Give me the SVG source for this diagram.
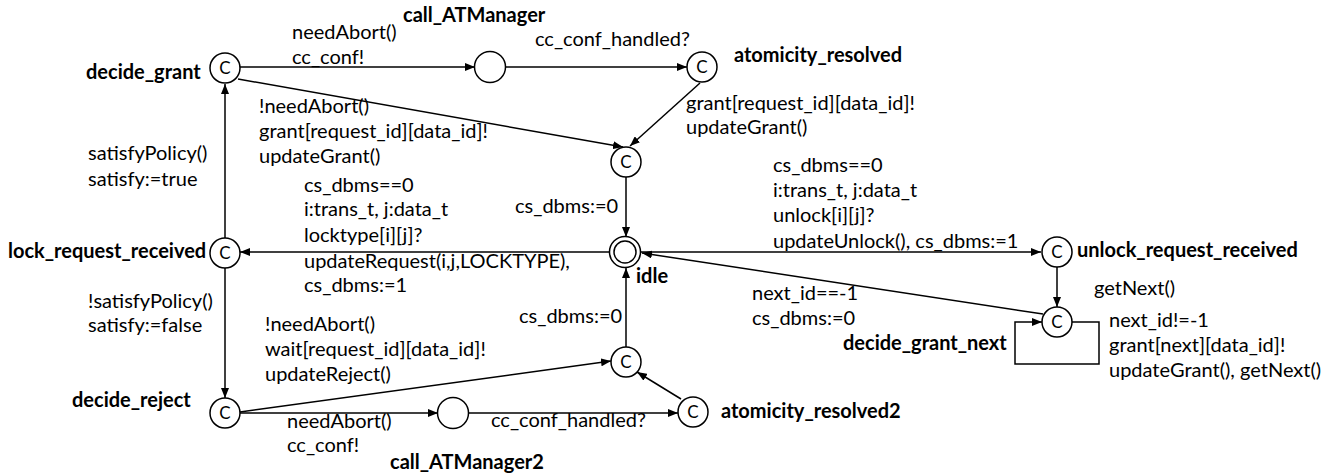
<svg xmlns="http://www.w3.org/2000/svg" width="1337" height="475" viewBox="0 0 1337 475">
<style>
text{font-family:Lato,"Open Sans","Liberation Sans",sans-serif;font-size:20px;fill:#000}
.b{font-weight:bold}
.n{fill:#fff;stroke:#000;stroke-width:1.5}
.c{font-size:17px;text-anchor:middle}
.e{fill:none;stroke:#000;stroke-width:1.5}
</style>
<defs>
<marker id="a" viewBox="0 0 10 8" refX="10" refY="4" markerWidth="10" markerHeight="8" markerUnits="userSpaceOnUse" orient="auto"><path d="M0,0L10,4L0,8z" fill="#000"/></marker>
</defs>
<g id="connectors">
<path class="e" d="M240,67H475" marker-end="url(#a)"/>
<path class="e" d="M506,67H687" marker-end="url(#a)"/>
<path class="e" d="M700,83L630,146" marker-end="url(#a)"/>
<path class="e" d="M238,79L623,147" marker-end="url(#a)"/>
<path class="e" d="M626,177V237" marker-end="url(#a)"/>
<path class="e" d="M610,252H240" marker-end="url(#a)"/>
<path class="e" d="M641,252H1041" marker-end="url(#a)"/>
<path class="e" d="M1043,314L642,253" marker-end="url(#a)"/>
<path class="e" d="M1057,267V307" marker-end="url(#a)"/>
<path class="e" d="M1072,322H1099V364H1015V322H1042" marker-end="url(#a)"/>
<path class="e" d="M225,238V84" marker-end="url(#a)"/>
<path class="e" d="M225,268V398" marker-end="url(#a)"/>
<path class="e" d="M240,413H438" marker-end="url(#a)"/>
<path class="e" d="M468,413H678" marker-end="url(#a)"/>
<path class="e" d="M240,412L611,361" marker-end="url(#a)"/>
<path class="e" d="M681,399L637,372" marker-end="url(#a)"/>
<path class="e" d="M626,347V268" marker-end="url(#a)"/>
</g>
<g id="decide_grant"><circle class="n" cx="225" cy="68" r="15"/><text class="c" x="225" y="74">C</text><text class="b" x="86" y="79">decide_grant</text></g>
<g id="call_ATManager"><circle class="n" cx="490" cy="67" r="15.5"/><text class="b" x="403" y="22">call_ATManager</text></g>
<g id="atomicity_resolved"><circle class="n" cx="702" cy="67" r="15"/><text class="c" x="702" y="73">C</text><text class="b" x="734" y="62">atomicity_resolved</text></g>
<g id="grant_join"><circle class="n" cx="626" cy="162" r="15"/><text class="c" x="626" y="168">C</text></g>
<g id="idle"><circle class="n" cx="625" cy="252" r="15.5"/><circle class="n" cx="625" cy="252" r="11"/><text class="b" x="636" y="283">idle</text></g>
<g id="lock_request_received"><circle class="n" cx="225" cy="253" r="15"/><text class="c" x="225" y="259">C</text><text class="b" x="8" y="258">lock_request_received</text></g>
<g id="decide_reject"><circle class="n" cx="225" cy="413" r="15"/><text class="c" x="225" y="419">C</text><text class="b" x="72" y="407">decide_reject</text></g>
<g id="call_ATManager2"><circle class="n" cx="453" cy="413" r="15.5"/><text class="b" x="390" y="469">call_ATManager2</text></g>
<g id="atomicity_resolved2"><circle class="n" cx="693" cy="412" r="15"/><text class="c" x="693" y="418">C</text><text class="b" x="721" y="418">atomicity_resolved2</text></g>
<g id="reject_join"><circle class="n" cx="626" cy="362" r="15"/><text class="c" x="626" y="368">C</text></g>
<g id="unlock_request_received"><circle class="n" cx="1057" cy="252" r="15"/><text class="c" x="1057" y="258">C</text><text class="b" x="1077" y="257">unlock_request_received</text></g>
<g id="decide_grant_next"><circle class="n" cx="1057" cy="322" r="15"/><text class="c" x="1057" y="328">C</text><text class="b" x="843" y="350">decide_grant_next</text></g>
<g id="labels">
<text x="292" y="39">needAbort()</text>
<text x="292" y="64">cc_conf!</text>
<text x="535" y="46">cc_conf_handled?</text>
<text x="686" y="110">grant[request_id][data_id]!</text>
<text x="686" y="134">updateGrant()</text>
<text x="259" y="113">!needAbort()</text>
<text x="259" y="138">grant[request_id][data_id]!</text>
<text x="259" y="163">updateGrant()</text>
<text x="88" y="160">satisfyPolicy()</text>
<text x="88" y="186">satisfy:=true</text>
<text x="515" y="213">cs_dbms:=0</text>
<text x="304" y="192">cs_dbms==0</text>
<text x="304" y="216">i:trans_t, j:data_t</text>
<text x="304" y="242">locktype[i][j]?</text>
<text x="304" y="268">updateRequest(i,j,LOCKTYPE),</text>
<text x="304" y="292">cs_dbms:=1</text>
<text x="88" y="308">!satisfyPolicy()</text>
<text x="88" y="332">satisfy:=false</text>
<text x="265" y="331">!needAbort()</text>
<text x="265" y="356">wait[request_id][data_id]!</text>
<text x="265" y="381">updateReject()</text>
<text x="287" y="428">needAbort()</text>
<text x="287" y="452">cc_conf!</text>
<text x="491" y="427">cc_conf_handled?</text>
<text x="519" y="323">cs_dbms:=0</text>
<text x="752" y="300">next_id==-1</text>
<text x="752" y="325">cs_dbms:=0</text>
<text x="773" y="172">cs_dbms==0</text>
<text x="773" y="197">i:trans_t, j:data_t</text>
<text x="773" y="222">unlock[i][j]?</text>
<text x="773" y="248">updateUnlock(), cs_dbms:=1</text>
<text x="1094" y="295">getNext()</text>
<text x="1109" y="327">next_id!=-1</text>
<text x="1109" y="352">grant[next][data_id]!</text>
<text x="1109" y="377">updateGrant(), getNext()</text>
</g>
</svg>
